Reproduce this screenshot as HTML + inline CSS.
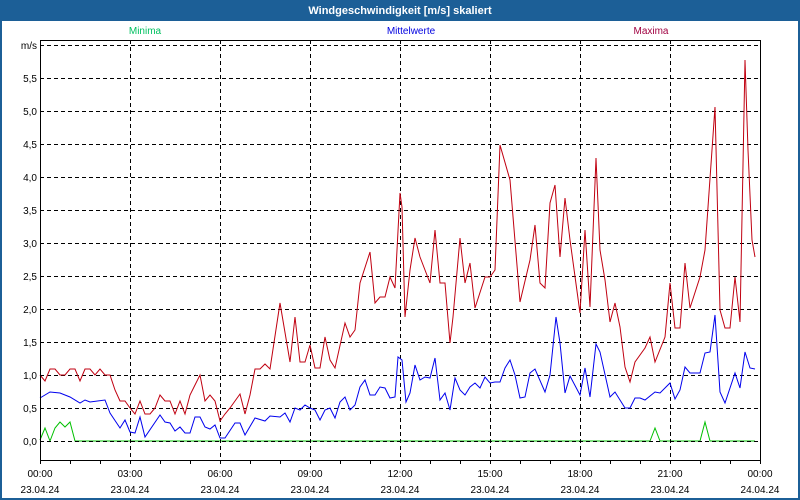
<!DOCTYPE html>
<html><head><meta charset="utf-8"><style>
html,body{margin:0;padding:0;background:#fff}
svg{display:block;font-family:"Liberation Sans",Tahoma,sans-serif}
</style></head><body>
<svg width="800" height="500" viewBox="0 0 800 500" xmlns="http://www.w3.org/2000/svg">
<rect x="0" y="0" width="800" height="500" fill="#1c5f97"/>
<rect x="2" y="21" width="796" height="477" fill="#fff"/>
<text x="400" y="14" fill="#fff" font-size="11" font-weight="bold" text-anchor="middle">Windgeschwindigkeit [m/s] skaliert</text>
<text x="145" y="34" fill="#00c060" font-size="10" text-anchor="middle">Minima</text>
<text x="411" y="34" fill="#0000e0" font-size="10" text-anchor="middle">Mittelwerte</text>
<text x="651" y="34" fill="#a00040" font-size="10" text-anchor="middle">Maxima</text>
<g font-size="10" fill="#000" text-anchor="end">
<text x="37" y="49">m/s</text>
<text x="37" y="82">5,5</text><text x="37" y="115">5,0</text><text x="37" y="148">4,5</text>
<text x="37" y="181">4,0</text><text x="37" y="214">3,5</text><text x="37" y="247">3,0</text>
<text x="37" y="280">2,5</text><text x="37" y="313">2,0</text><text x="37" y="346">1,5</text>
<text x="37" y="379">1,0</text><text x="37" y="412">0,5</text><text x="37" y="445">0,0</text>
</g>
<g font-size="10" fill="#000" text-anchor="middle">
<text x="40" y="477">00:00</text><text x="40" y="493">23.04.24</text>
<text x="130" y="477">03:00</text><text x="130" y="493">23.04.24</text>
<text x="220" y="477">06:00</text><text x="220" y="493">23.04.24</text>
<text x="310" y="477">09:00</text><text x="310" y="493">23.04.24</text>
<text x="400" y="477">12:00</text><text x="400" y="493">23.04.24</text>
<text x="490" y="477">15:00</text><text x="490" y="493">23.04.24</text>
<text x="580" y="477">18:00</text><text x="580" y="493">23.04.24</text>
<text x="670" y="477">21:00</text><text x="670" y="493">23.04.24</text>
<text x="760" y="477">00:00</text><text x="760" y="493">24.04.24</text>
</g>
<polyline fill="none" stroke="#00c000" stroke-width="1" points="40,440 45,428 50,441 55,428 60,422 65,427 70,422 75,441 650,441 655,428 660,441 700,441 705,422 710,441 755,441"/>
<g stroke="#000" stroke-width="1" stroke-dasharray="4,3" fill="none">
<path d="M40 45.5H760M40 78.5H760M40 111.5H760M40 144.5H760M40 177.5H760M40 210.5H760M40 243.5H760M40 276.5H760M40 309.5H760M40 342.5H760M40 375.5H760M40 408.5H760M40 441.5H760"/>
<path d="M130.5 40V460M220.5 40V460M310.5 40V460M400.5 40V460M490.5 40V460M580.5 40V460M670.5 40V460"/>
</g>
<polyline fill="none" stroke="#0000ee" stroke-width="1" points="40,398 50,392 60,393 70,397 80,403 85,400 90,402 105,400 110,413 120,428 125,420 130,432 135,433 140,417 145,437 160,415 165,422 170,423 175,431 180,427 185,433 190,433 195,417 200,417 205,427 210,429 215,425 220,438 225,438 235,423 240,423 245,435 255,418 265,421 270,416 280,417 285,413 290,422 295,408 300,410 305,405 310,408 315,410 320,420 325,410 330,408 335,418 340,402 345,397 350,410 355,405 360,387 365,380 370,395 375,395 380,387 385,388 390,398 395,397 398,357 402,360 406,402 410,393 415,365 420,380 425,377 430,378 435,358 440,400 445,393 450,410 455,378 460,390 465,395 470,387 475,383 480,388 485,377 490,383 495,382 500,382 505,368 510,360 515,375 520,398 525,397 530,373 535,369 545,392 550,375 556,317 560,343 565,393 570,376 580,395 585,368 590,397 596,344 600,352 610,397 615,392 625,408 630,408 635,398 640,398 645,400 655,392 660,393 670,383 675,399 680,390 685,367 690,373 700,373 705,353 710,352 715,315 720,392 725,403 735,373 740,388 745,352 750,368 755,369"/>
<polyline fill="none" stroke="#c00010" stroke-width="1" points="40,375 45,381 50,369 55,369 60,375 65,375 70,369 75,369 80,381 85,369 90,369 95,375 100,369 105,375 110,375 115,390 120,401 125,401 130,408 135,414 140,401 145,414 150,414 155,408 160,395 165,401 170,401 175,414 180,401 185,414 190,395 195,385 200,375 205,401 210,395 215,401 220,421 225,414 230,408 235,401 240,394 245,414 250,395 255,369 260,369 265,364 270,369 275,336 280,303 290,362 295,317 300,362 305,362 310,345 315,368 320,368 325,337 330,360 335,368 345,323 350,337 355,330 360,283 370,252 375,303 380,297 385,297 390,277 395,288 400,193 402,207 405,317 410,270 415,238 420,257 430,283 435,230 440,283 445,283 450,343 453,317 460,238 465,283 470,263 475,308 485,277 490,277 495,270 500,145 510,180 520,302 530,260 535,225 540,283 545,288 550,203 555,185 560,257 565,198 570,240 580,313 585,230 590,307 596,158 600,250 605,280 610,322 615,303 620,327 625,367 630,382 635,362 645,348 650,337 655,362 665,337 670,283 675,328 680,328 685,263 690,308 700,277 705,250 715,107 720,310 725,328 730,328 735,277 740,322 745,60 748,150 752,240 755,257"/>
<g stroke="#000" stroke-width="1" fill="none">
<path d="M40.5 40V464M40 40.5H760M760.5 40V460M40 460.5H761"/>
<path d="M70.5 460v4M100.5 460v4M130.5 460v4M160.5 460v4M190.5 460v4M220.5 460v4M250.5 460v4M280.5 460v4M310.5 460v4M340.5 460v4M370.5 460v4M400.5 460v4M430.5 460v4M460.5 460v4M490.5 460v4M520.5 460v4M550.5 460v4M580.5 460v4M610.5 460v4M640.5 460v4M670.5 460v4M700.5 460v4M730.5 460v4M760.5 460v4"/>
</g>
</svg>
</body></html>
